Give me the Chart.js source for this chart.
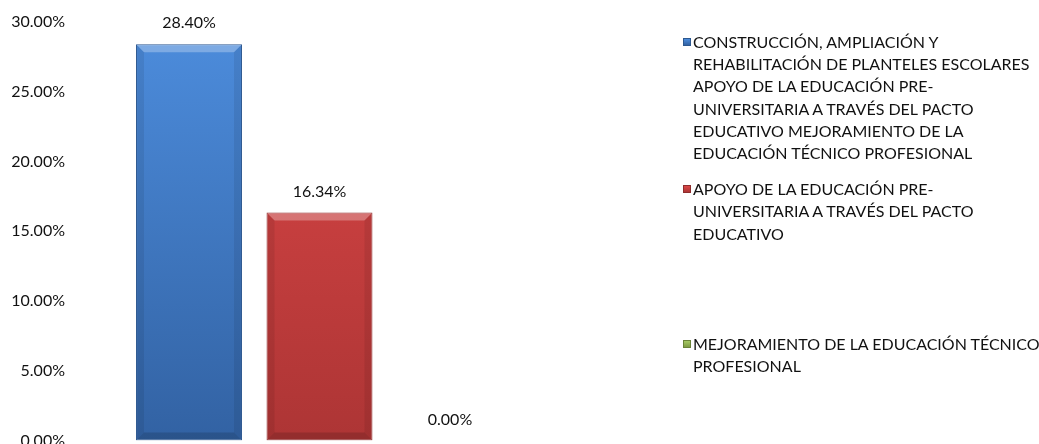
<!DOCTYPE html>
<html>
<head>
<meta charset="utf-8">
<script src="https://cdn.jsdelivr.net/npm/chart.js@4.4.0/dist/chart.umd.min.js"></script>
<style>
  html, body { margin: 0; padding: 0; background: #fff; overflow: hidden; }
  #wrap { position: relative; width: 1039px; height: 444px; overflow: hidden; }
  #chart { position: absolute; left: 0; top: 0; }
  #legend { position: absolute; left: 682px; top: 31px; width: 361px;
            font-family: Lato, "Open Sans", sans-serif; font-size: 16px; line-height: 22.2px; color: #111; }
  .item { position: relative; padding-left: 11px; }
  .item .box { position: absolute; left: 1px; top: 7px; width: 8px; height: 8px; box-sizing: border-box; }
  .item:nth-child(1) { margin-bottom: 14px; }
  .item:nth-child(2) { margin-bottom: 88px; }
</style>
</head>
<body>
<div id="wrap">
  <canvas id="chart" width="1039" height="452"></canvas>
  <div id="legend"></div>
</div>
<script>
var seriesNames = [
    "CONSTRUCCIÓN, AMPLIACIÓN Y REHABILITACIÓN DE PLANTELES ESCOLARES APOYO DE LA EDUCACIÓN PRE-UNIVERSITARIA A TRAVÉS DEL PACTO EDUCATIVO MEJORAMIENTO DE LA EDUCACIÓN TÉCNICO PROFESIONAL",
    "APOYO DE LA EDUCACIÓN PRE-UNIVERSITARIA A TRAVÉS DEL PACTO EDUCATIVO",
    "MEJORAMIENTO DE LA EDUCACIÓN TÉCNICO PROFESIONAL"
];
var seriesValues = [28.40, 16.34, 0.00];
var categories = [""];
var yTicks = [0, 5, 10, 15, 20, 25, 30];

var topColors = ["#4d8ddd", "#dc4747", "#a6c963"];
var bottomColors = ["#3262a3", "#ad3535", "#7f9c44"];
var edgeColors = ["#2d5890", "#8e2d2d", "#6a8338"];
var lightColors = ["rgba(255,255,255,0.28)", "rgba(255,255,255,0.28)", "rgba(255,255,255,0.28)"];

function barGradient(ctx, i) {
    var chart = ctx.chart;
    var area = chart.chartArea;
    if (!area) {
        return topColors[i];
    }
    var g = chart.ctx.createLinearGradient(0, area.top, 0, area.bottom);
    g.addColorStop(0, topColors[i]);
    g.addColorStop(1, bottomColors[i]);
    return g;
}

var datasets = [];
for (var i = 0; i < seriesValues.length; i++) {
    (function(i) {
        datasets.push({
            label: seriesNames[i],
            data: [seriesValues[i]],
            backgroundColor: function(ctx) { return barGradient(ctx, i); },
            borderColor: edgeColors[i],
            borderWidth: 1,
            borderSkipped: false,
            barPercentage: 0.812,
            categoryPercentage: 0.8006
        });
    })(i);
}

// bevel look on the bars + value labels above them
var barExtras = {
    id: 'barExtras',
    afterDatasetsDraw: function(chart) {
        var ctx = chart.ctx;
        ctx.save();
        chart.data.datasets.forEach(function(ds, i) {
            var meta = chart.getDatasetMeta(i);
            meta.data.forEach(function(bar, j) {
                var h = bar.base - bar.y;
                if (h < 12) return;
                var l = bar.x - bar.width / 2 + 1, r = bar.x + bar.width / 2 - 1;
                var t = bar.y + 1, b = bar.base - 1, d = 7;
                // top highlight
                ctx.fillStyle = lightColors[i];
                ctx.beginPath();
                ctx.moveTo(l, t); ctx.lineTo(r, t); ctx.lineTo(r - d, t + d); ctx.lineTo(l + d, t + d);
                ctx.closePath(); ctx.fill();
                // side shading
                ctx.fillStyle = 'rgba(0,0,0,0.08)';
                ctx.beginPath();
                ctx.moveTo(l, t); ctx.lineTo(l + d, t + d); ctx.lineTo(l + d, b - d); ctx.lineTo(l, b);
                ctx.closePath(); ctx.fill();
                ctx.beginPath();
                ctx.moveTo(r, t); ctx.lineTo(r - d, t + d); ctx.lineTo(r - d, b - d); ctx.lineTo(r, b);
                ctx.closePath(); ctx.fill();
                // bottom shade
                ctx.fillStyle = 'rgba(0,0,0,0.15)';
                ctx.beginPath();
                ctx.moveTo(l, b); ctx.lineTo(l + d, b - d); ctx.lineTo(r - d, b - d); ctx.lineTo(r, b);
                ctx.closePath(); ctx.fill();
            });
        });
        ctx.font = '16px Lato, "Open Sans", sans-serif';
        ctx.fillStyle = '#111';
        ctx.textAlign = 'center';
        ctx.textBaseline = 'middle';
        chart.data.datasets.forEach(function(ds, i) {
            var meta = chart.getDatasetMeta(i);
            meta.data.forEach(function(bar, j) {
                ctx.fillText(ds.data[j].toFixed(2) + '%', bar.x, bar.y - 21);
            });
        });
        ctx.restore();
    }
};

new Chart(document.getElementById('chart'), {
    type: 'bar',
    data: { labels: categories, datasets: datasets },
    options: {
        responsive: false,
        animation: false,
        layout: { padding: { left: 0, right: 475, top: 22, bottom: 0 } },
        plugins: { legend: { display: false }, tooltip: { enabled: false } },
        scales: {
            x: { display: false },
            y: {
                min: 0, max: 30,
                afterBuildTicks: function(axis) {
                    axis.ticks = yTicks.map(function(v) { return { value: v }; });
                },
                afterFit: function(axis) { axis.width = 75; },
                grid: { display: false },
                border: { display: false },
                ticks: {
                    padding: 2,
                    color: '#111',
                    font: { family: 'Lato, "Open Sans", sans-serif', size: 16 },
                    callback: function(v) { return v.toFixed(2) + '%'; }
                }
            }
        }
    },
    plugins: [barExtras]
});

var legend = document.getElementById('legend');
for (var i = 0; i < seriesNames.length; i++) {
    var item = document.createElement('div');
    item.className = 'item';
    var box = document.createElement('span');
    box.className = 'box';
    box.style.background = 'linear-gradient(' + topColors[i] + ',' + bottomColors[i] + ')';
    box.style.border = '1px solid ' + edgeColors[i];
    item.appendChild(box);
    item.appendChild(document.createTextNode(seriesNames[i]));
    legend.appendChild(item);
}
</script>
</body>
</html>
